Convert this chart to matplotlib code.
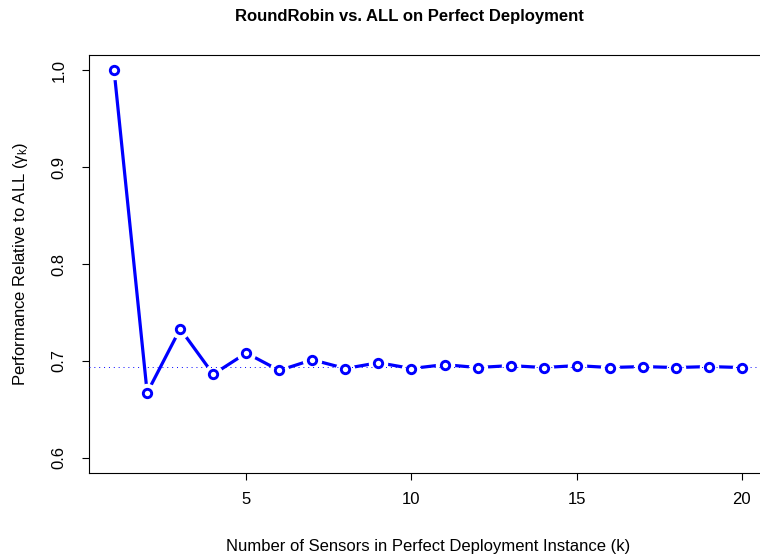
import numpy as np
import matplotlib.pyplot as plt

plt.rcParams['font.family'] = ['Liberation Sans', 'DejaVu Sans']

# ratio of RoundRobin to ALL for k = 1..20 sensors
sensors = list(range(1, 21))
gamma = [1.000, 0.667, 0.733, 0.686, 0.708, 0.690, 0.701, 0.692, 0.698, 0.692,
         0.696, 0.693, 0.695, 0.693, 0.695, 0.693, 0.694, 0.693, 0.694, 0.693]
limit = 0.6931  # ln(2)

fig = plt.figure(figsize=(7.6, 5.54), dpi=100)
ax = fig.add_axes([89/760, 1-473/554, 678/760, 418/554])

ax.plot(sensors, gamma, c='blue', lw=2.3, zorder=2)
# white discs under the markers give the gap between line and points
ax.plot(sensors, gamma, 'o', ms=14, mfc='white', mec='none', zorder=3)
ax.axhline(limit, c='blue', lw=0.7, ls=(0, (1, 4)), zorder=3.5)
ax.plot(sensors, gamma, 'o', ms=6, mfc='white', mec='blue', mew=2.1, zorder=4)

ax.set_xlim(0.24, 20.76)
ax.set_ylim(0.584, 1.016)
ax.set_xticks([5, 10, 15, 20])
ax.set_yticks([0.6, 0.7, 0.8, 0.9, 1.0])
ax.set_yticklabels(['0.6', '0.7', '0.8', '0.9', '1.0'], rotation=90, va='center')
ax.tick_params(length=5, width=0.8, labelsize=12, pad=9)
ax.tick_params(axis='y', pad=11)

fig.text(409/760, 1-17/554, "RoundRobin vs. ALL on Perfect Deployment",
         fontsize=12, fontweight='bold', ha='center', va='center')
ax.set_xlabel("Number of Sensors in Perfect Deployment Instance (k)", fontsize=12,
              labelpad=23)
ax.set_ylabel(r"Performance Relative to ALL ($\mathregular{\gamma_k}$)",
              fontsize=12, labelpad=16)

plt.savefig("out.png", dpi=100)
